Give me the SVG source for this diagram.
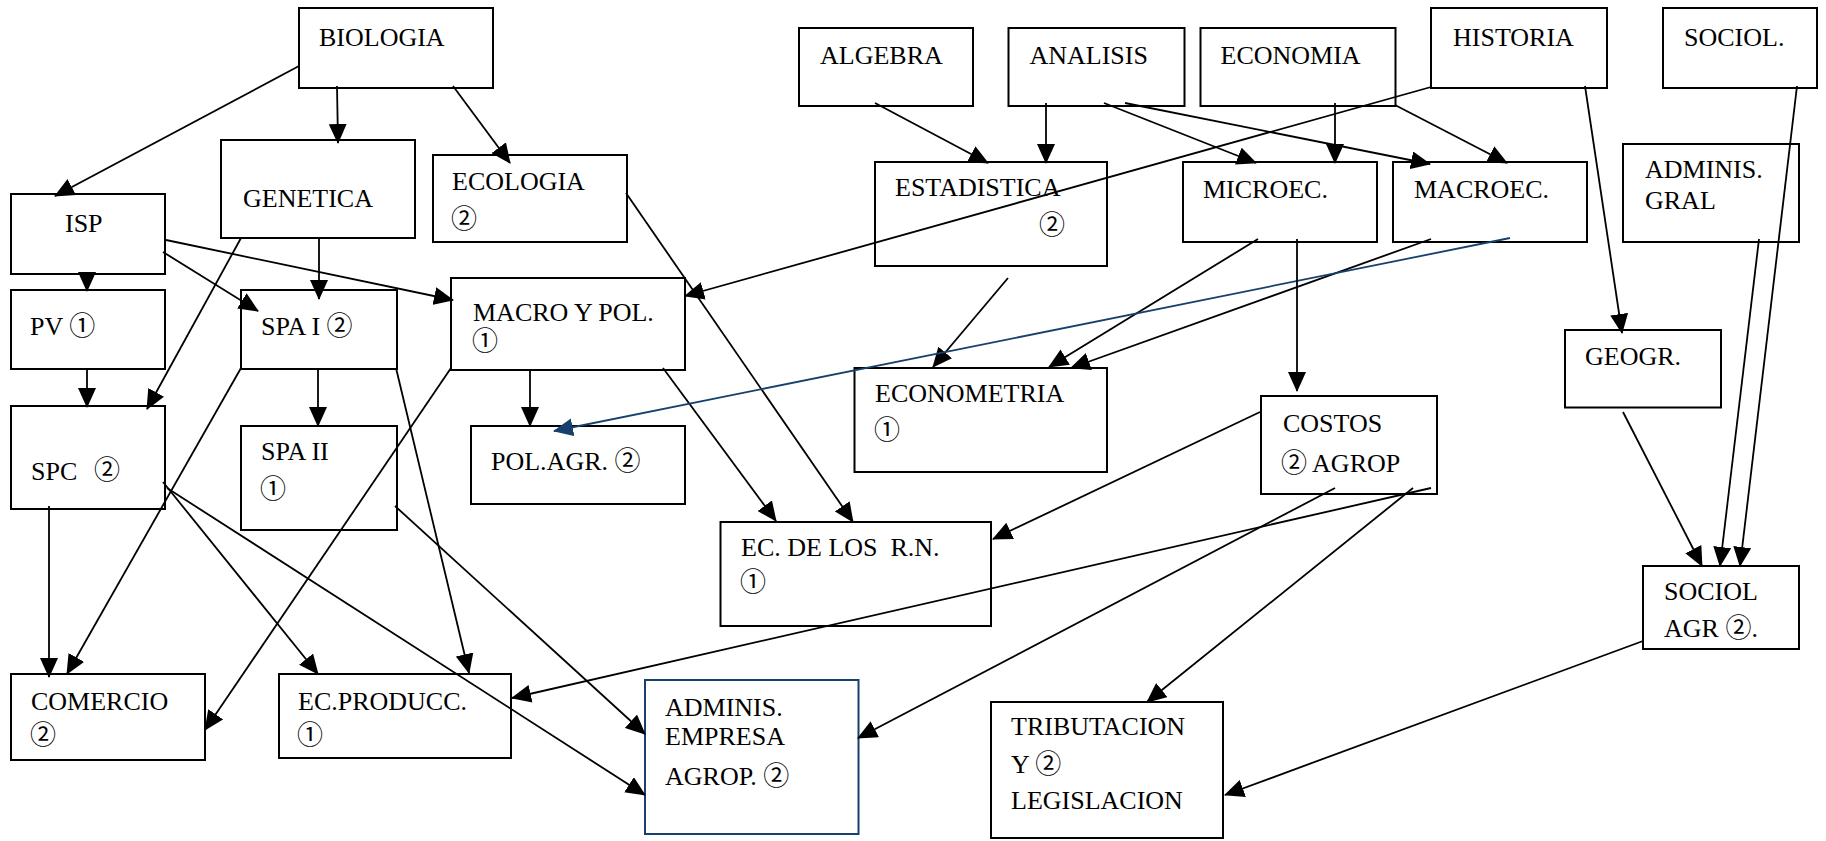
<svg xmlns="http://www.w3.org/2000/svg" width="1826" height="841" viewBox="0 0 1826 841">
<defs>
<style>
.box{fill:#fff;stroke:#000;stroke-width:2}
.blue{fill:#fff;stroke:#17406d;stroke-width:2}
text{font-family:"Liberation Serif","Times New Roman",serif;font-size:26px;fill:#000}
.c{font-family:"Noto Sans CJK JP","DejaVu Sans",sans-serif;font-size:26px}
#edges line{stroke:#000;stroke-width:1.8;marker-end:url(#ah)}
#edges line.bl{stroke:#17406d;marker-end:url(#ahb)}
</style>
<marker id="ah" markerUnits="userSpaceOnUse" markerWidth="20" markerHeight="18" refX="19" refY="9" orient="auto"><path d="M0,0 L20,9 L0,18 z" fill="#000"/></marker>
<marker id="ahb" markerUnits="userSpaceOnUse" markerWidth="20" markerHeight="18" refX="19" refY="9" orient="auto"><path d="M0,0 L20,9 L0,18 z" fill="#17406d"/></marker>
</defs>
<rect width="1826" height="841" fill="#fff"/>
<g id="nodes">
<g id="biologia"><rect class="box" x="299" y="8" width="194" height="80"/><text x="319" y="46">BIOLOGIA</text></g>
<g id="algebra"><rect class="box" x="799" y="28" width="174" height="78"/><text x="820" y="64">ALGEBRA</text></g>
<g id="analisis"><rect class="box" x="1008.5" y="28" width="176" height="78"/><text x="1029.5" y="64">ANALISIS</text></g>
<g id="economia"><rect class="box" x="1200.5" y="28" width="195" height="78"/><text x="1220.5" y="64">ECONOMIA</text></g>
<g id="historia"><rect class="box" x="1431" y="8" width="176" height="80"/><text x="1453" y="46">HISTORIA</text></g>
<g id="sociol"><rect class="box" x="1663" y="8" width="154" height="80"/><text x="1684" y="46">SOCIOL.</text></g>
<g id="genetica"><rect class="box" x="221" y="140" width="194" height="98"/><text x="243" y="207">GENETICA</text></g>
<g id="ecologia"><rect class="box" x="433" y="155" width="194" height="87"/><text x="452" y="190">ECOLOGIA</text><text class="c" x="451" y="228">②</text></g>
<g id="isp"><rect class="box" x="11" y="194" width="154" height="80"/><text x="65" y="232">ISP</text></g>
<g id="estadistica"><rect class="box" x="875" y="162" width="232" height="104"/><text x="895" y="196">ESTADISTICA</text><text class="c" x="1039" y="234">②</text></g>
<g id="microec"><rect class="box" x="1183" y="162" width="194" height="80"/><text x="1203" y="198">MICROEC.</text></g>
<g id="macroec"><rect class="box" x="1393" y="162" width="194" height="80"/><text x="1414" y="198">MACROEC.</text></g>
<g id="adminis-gral"><rect class="box" x="1623" y="144" width="176" height="98"/><text x="1645" y="178">ADMINIS.</text><text x="1645" y="209">GRAL</text></g>
<g id="pv"><rect class="box" x="11" y="290" width="154" height="79"/><text x="30" y="335">PV <tspan class="c">①</tspan></text></g>
<g id="spa1"><rect class="box" x="241" y="290" width="156" height="79"/><text x="261" y="335">SPA I <tspan class="c">②</tspan></text></g>
<g id="macro-pol"><rect class="box" x="451" y="278" width="234" height="92"/><text x="473" y="321">MACRO Y POL.</text><text class="c" x="472" y="350">①</text></g>
<g id="geogr"><rect class="box" x="1565" y="330" width="156" height="77.5"/><text x="1585" y="365">GEOGR.</text></g>
<g id="spc"><rect class="box" x="11" y="406" width="154" height="103"/><text x="31" y="480">SPC</text><text class="c" x="94" y="479">②</text></g>
<g id="spa2"><rect class="box" x="241" y="426" width="156" height="104"/><text x="261" y="460">SPA II</text><text class="c" x="260" y="498">①</text></g>
<g id="polagr"><rect class="box" x="471" y="426" width="214" height="78"/><text x="491" y="470">POL.AGR. <tspan class="c">②</tspan></text></g>
<g id="econometria"><rect class="box" x="854.5" y="368" width="252.5" height="104"/><text x="875" y="402">ECONOMETRIA</text><text class="c" x="874" y="439">①</text></g>
<g id="costos"><rect class="box" x="1261" y="396" width="176" height="98"/><text x="1283" y="432">COSTOS</text><text x="1281" y="472"><tspan class="c">②</tspan> AGROP</text></g>
<g id="ec-rn"><rect class="box" x="720.5" y="522" width="270.5" height="104"/><text x="741" y="556" xml:space="preserve">EC. DE LOS  R.N.</text><text class="c" x="740" y="591">①</text></g>
<g id="sociol-agr"><rect class="box" x="1643" y="566" width="156" height="83"/><text x="1664" y="600">SOCIOL</text><text x="1664" y="637">AGR <tspan class="c">②</tspan>.</text></g>
<g id="comercio"><rect class="box" x="11" y="674" width="194" height="86"/><text x="31" y="710">COMERCIO</text><text class="c" x="30" y="744">②</text></g>
<g id="ec-producc"><rect class="box" x="279" y="674" width="232" height="84"/><text x="298" y="710">EC.PRODUCC.</text><text class="c" x="297" y="744">①</text></g>
<g id="adminis-empresa"><rect class="blue" x="645" y="680" width="213.5" height="154"/><text x="665" y="716">ADMINIS.</text><text x="665" y="745">EMPRESA</text><text x="665" y="785">AGROP. <tspan class="c">②</tspan></text></g>
<g id="tributacion"><rect class="box" x="991" y="702" width="232" height="136"/><text x="1011" y="735">TRIBUTACION</text><text x="1011" y="773">Y <tspan class="c">②</tspan></text><text x="1011" y="809">LEGISLACION</text></g>
</g>
<g id="edges">
<line x1="299" y1="66" x2="55" y2="196"/>
<line x1="337" y1="86" x2="338" y2="143"/>
<line x1="453" y1="86" x2="510" y2="163"/>
<line x1="87" y1="272" x2="87" y2="291"/>
<line x1="163" y1="252" x2="258" y2="311"/>
<line x1="166" y1="240" x2="453" y2="300"/>
<line x1="319" y1="239" x2="319" y2="299"/>
<line x1="241" y1="238" x2="147" y2="409"/>
<line x1="626" y1="193" x2="853" y2="522"/>
<line x1="87" y1="368" x2="87" y2="407"/>
<line x1="318" y1="370" x2="318" y2="426"/>
<line x1="241" y1="368" x2="67" y2="674"/>
<line x1="396" y1="368" x2="469" y2="673"/>
<line x1="451" y1="368" x2="205" y2="730"/>
<line x1="530" y1="370" x2="530" y2="426"/>
<line x1="663" y1="368" x2="776" y2="521"/>
<line x1="1431" y1="87" x2="685" y2="296"/>
<line x1="875" y1="103" x2="988" y2="163"/>
<line x1="1046" y1="103" x2="1046" y2="163"/>
<line x1="1104" y1="103" x2="1256" y2="163"/>
<line x1="1125" y1="103" x2="1430" y2="164"/>
<line x1="1335" y1="103" x2="1335" y2="163"/>
<line x1="1395" y1="105" x2="1507" y2="163"/>
<line x1="1008" y1="278" x2="933" y2="367"/>
<line x1="1258" y1="239" x2="1049" y2="367"/>
<line x1="1431" y1="239" x2="1071" y2="368"/>
<line class="bl" x1="1510" y1="238" x2="554" y2="431"/>
<line x1="1297" y1="239" x2="1297" y2="391"/>
<line x1="1585" y1="86" x2="1622" y2="333"/>
<line x1="1797" y1="86" x2="1740" y2="566"/>
<line x1="1759" y1="239" x2="1720" y2="566"/>
<line x1="1623" y1="412" x2="1702" y2="566"/>
<line x1="1643" y1="641" x2="1225" y2="795"/>
<line x1="1260" y1="412" x2="993" y2="539"/>
<line x1="1431" y1="488" x2="512" y2="698"/>
<line x1="1335" y1="488" x2="858" y2="738"/>
<line x1="1413" y1="488" x2="1147" y2="702"/>
<line x1="49" y1="506" x2="49" y2="677"/>
<line x1="163" y1="482" x2="318" y2="674"/>
<line x1="167" y1="488" x2="645" y2="795"/>
<line x1="395" y1="506" x2="645" y2="734"/>
</g>
</svg>
